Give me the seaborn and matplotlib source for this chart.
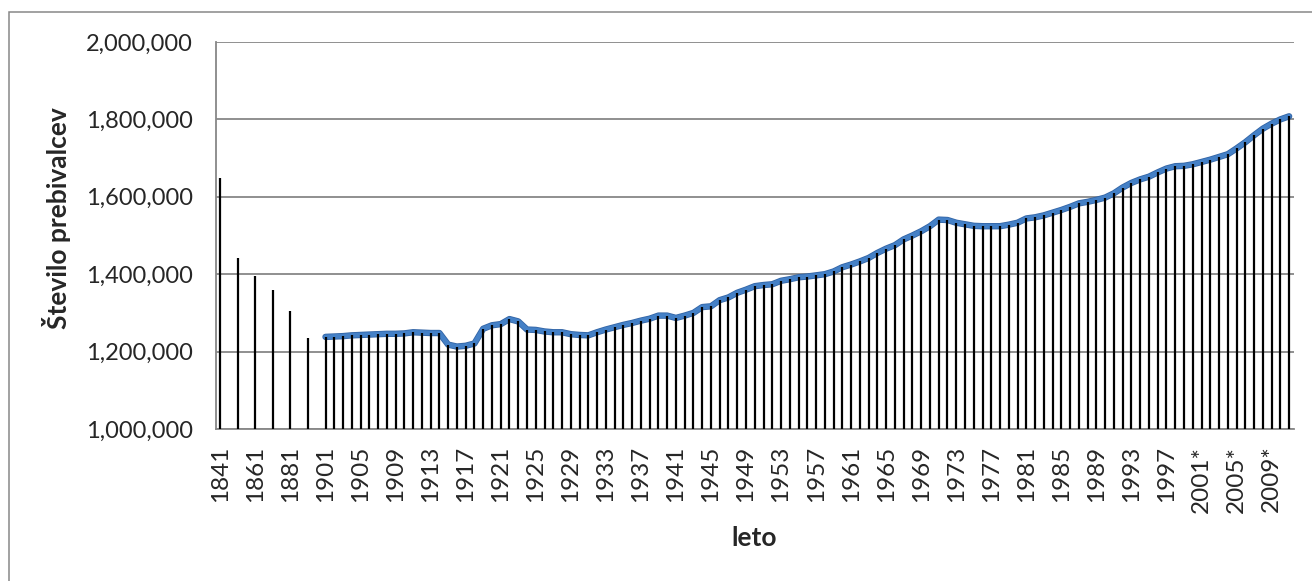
import matplotlib
matplotlib.use("Agg")
import matplotlib.pyplot as plt
import matplotlib.patheffects as pe
from matplotlib.patches import Rectangle
from matplotlib.ticker import FuncFormatter
import seaborn as sns
import numpy as np
import pandas as pd

# census years before 1901, every 10 years (5-year category slots, every other one empty)
early_years = [1841, 1851, 1861, 1871, 1881, 1891]
early_pop = [1648000, 1442000, 1395000, 1358000, 1304000, 1236000]

# yearly estimates 1901-2011
line_years = list(range(1901, 2012))
line_pop = [
    1238000, 1239000, 1240000, 1242000, 1243000, 1244000, 1245000, 1246000, 1246000, 1247000,  # 1901-1910
    1250000, 1249000, 1248000, 1248000, 1218000, 1213000, 1215000, 1221000, 1259000, 1268000,  # 1911-1920
    1271000, 1284000, 1278000, 1257000, 1256000, 1252000, 1250000, 1250000, 1245000, 1243000,  # 1921-1930
    1242000, 1250000, 1257000, 1263000, 1269000, 1274000, 1280000, 1285000, 1293000, 1293000,  # 1931-1940
    1287000, 1293000, 1300000, 1315000, 1317000, 1333000, 1340000, 1352000, 1360000, 1369000,  # 1941-1950
    1372000, 1374000, 1383000, 1387000, 1392000, 1394000, 1397000, 1400000, 1407000, 1418000,  # 1951-1960
    1425000, 1433000, 1442000, 1455000, 1466000, 1475000, 1490000, 1500000, 1511000, 1524000,  # 1961-1970
    1541000, 1540000, 1533000, 1529000, 1525000, 1524000, 1524000, 1524000, 1528000, 1533000,  # 1971-1980
    1544000, 1547000, 1552000, 1559000, 1566000, 1574000, 1583000, 1587000, 1592000, 1598000,  # 1981-1990
    1609000, 1624000, 1636000, 1645000, 1652000, 1663000, 1673000, 1679000, 1680000, 1684000,  # 1991-2000
    1690000, 1696000, 1703000, 1710000, 1725000, 1741000, 1759000, 1776000, 1789000, 1800000,  # 2001-2010
    1808000,  # 2011
]

# category axis as in the original sheet: 1841..1896 by 5, then every year
cat_years = list(range(1841, 1901, 5)) + line_years
cat_labels = [str(y) + ("*" if y >= 2000 else "") for y in cat_years]

y_ticks = [1000000, 1200000, 1400000, 1600000, 1800000, 2000000]

GRID = "#878787"
FONT = ["Lato", "DejaVu Sans"]

sns.set_style("white")
plt.rcParams["font.family"] = FONT

df_early = pd.DataFrame({"year": early_years, "pop": early_pop})
df_early["pos"] = [cat_years.index(y) for y in early_years]
df_line = pd.DataFrame({"year": line_years, "pop": line_pop})
df_line["pos"] = [cat_years.index(y) for y in line_years]
df_all = pd.concat([df_early, df_line], ignore_index=True)

W, H = 1312, 581
fig, ax = plt.subplots(figsize=(W / 100, H / 100), dpi=100)
fig.subplots_adjust(left=216 / W, right=1293.5 / W, top=1 - 42 / H, bottom=1 - 429 / H)

sns.lineplot(data=df_line, x="pos", y="pop", ax=ax, color="#4480C6", lw=3.4,
             solid_capstyle="round", solid_joinstyle="round", zorder=3,
             path_effects=[pe.Stroke(linewidth=4.6, foreground="#3365A6"), pe.Normal()])

# drop lines
ax.vlines(df_all["pos"], y_ticks[0], df_all["pop"], color="black", lw=1.6, zorder=4)

ax.set_xlim(-0.5, len(cat_years) - 0.5)
ax.set_ylim(y_ticks[0], y_ticks[-1])
ax.set_yticks(y_ticks)
ax.yaxis.set_major_formatter(FuncFormatter(lambda v, p: f"{v:,.0f}"))
ax.set_xticks(range(0, len(cat_years), 4))
ax.set_xticklabels(cat_labels[::4], rotation=90)

ax.grid(axis="y", color=GRID, lw=1.3)
ax.set_axisbelow(True)
for s in ["top", "right"]:
    ax.spines[s].set_visible(False)
for s in ["left", "bottom"]:
    ax.spines[s].set_color(GRID)
    ax.spines[s].set_linewidth(1.3)

ax.tick_params(axis="y", direction="out", length=6.5, width=1.3, color=GRID, pad=10, labelsize=17)
ax.tick_params(axis="x", length=0, pad=12, labelsize=17.5)
ax.set_xlabel("")
ax.set_ylabel("")

fig.text(57 / W, 1 - 218 / H, "Število prebivalcev", rotation=90, ha="center", va="center",
         fontsize=19, fontweight="bold")
fig.text(754 / W, 1 - 538 / H, "leto", ha="center", va="center", fontsize=19, fontweight="bold")

# chart area border
fig.add_artist(Rectangle((9 / W, -0.1), 1.2, 1 - 12 / H + 0.1, transform=fig.transFigure,
                         fill=False, edgecolor=GRID, lw=1.1))

fig.savefig("out.png", dpi=100)
